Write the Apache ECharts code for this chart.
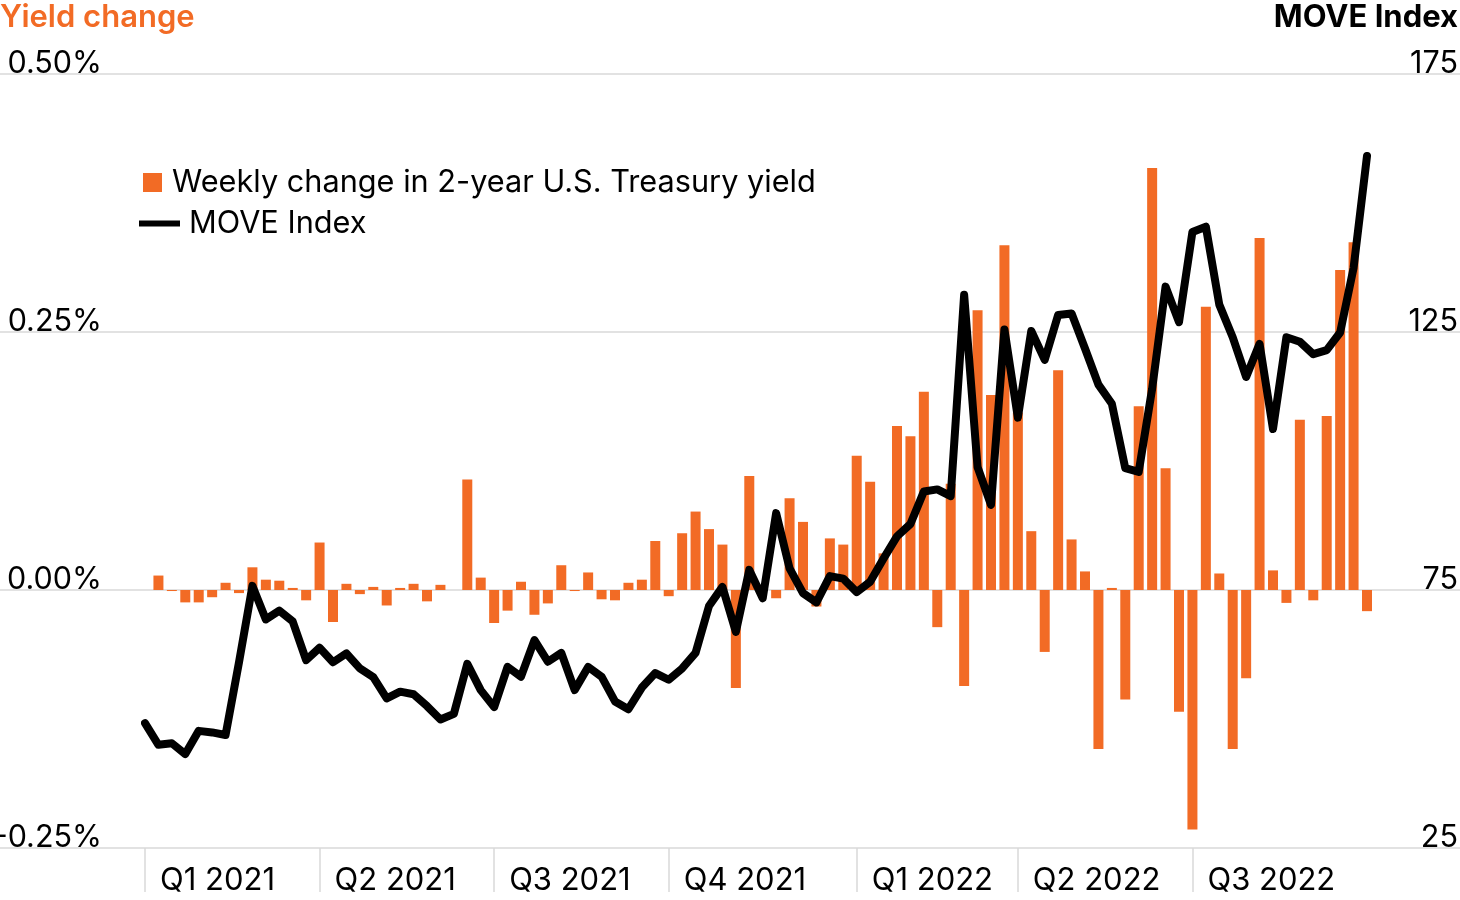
<!DOCTYPE html>
<html>
<head>
<meta charset="utf-8">
<script src="https://cdn.jsdelivr.net/npm/echarts@6/dist/echarts.min.js"></script>
<style>
  html, body { margin: 0; padding: 0; background: #fff; }
  #chart { width: 1460px; height: 900px; }
</style>
</head>
<body>
<div id="chart"></div>
<script>
// Weekly dates (Fridays)
const weeks = [
  '2021-01-01','2021-01-08','2021-01-15','2021-01-22','2021-01-29',
  '2021-02-05','2021-02-12','2021-02-19','2021-02-26',
  '2021-03-05','2021-03-12','2021-03-19','2021-03-26',
  '2021-04-02','2021-04-09','2021-04-16','2021-04-23','2021-04-30',
  '2021-05-07','2021-05-14','2021-05-21','2021-05-28',
  '2021-06-04','2021-06-11','2021-06-18','2021-06-25',
  '2021-07-02','2021-07-09','2021-07-16','2021-07-23','2021-07-30',
  '2021-08-06','2021-08-13','2021-08-20','2021-08-27',
  '2021-09-03','2021-09-10','2021-09-17','2021-09-24',
  '2021-10-01','2021-10-08','2021-10-15','2021-10-22','2021-10-29',
  '2021-11-05','2021-11-12','2021-11-19','2021-11-26',
  '2021-12-03','2021-12-10','2021-12-17','2021-12-24','2021-12-31',
  '2022-01-07','2022-01-14','2022-01-21','2022-01-28',
  '2022-02-04','2022-02-11','2022-02-18','2022-02-25',
  '2022-03-04','2022-03-11','2022-03-18','2022-03-25',
  '2022-04-01','2022-04-08','2022-04-15','2022-04-22','2022-04-29',
  '2022-05-06','2022-05-13','2022-05-20','2022-05-27',
  '2022-06-03','2022-06-10','2022-06-17','2022-06-24',
  '2022-07-01','2022-07-08','2022-07-15','2022-07-22','2022-07-29',
  '2022-08-05','2022-08-12','2022-08-19','2022-08-26',
  '2022-09-02','2022-09-09','2022-09-16','2022-09-23','2022-09-30'
];

// Quarter tick positions (first week of each quarter) and their labels
const quarterStarts = ['2021-01-01','2021-04-02','2021-07-02','2021-10-01','2022-01-07','2022-04-01','2022-07-01'];
const quarterLabels = ['Q1 2021','Q2 2021','Q3 2021','Q4 2021','Q1 2022','Q2 2022','Q3 2022'];

// Weekly change in 2-year U.S. Treasury yield (percentage points)
const yieldChange = [
  null,
  0.014, -0.001, -0.012, -0.012, -0.007, 0.007, -0.003, 0.022, 0.010, 0.009,
  0.002, -0.010, 0.046, -0.031, 0.006, -0.004, 0.003, -0.015, 0.002, 0.006,
  -0.011, 0.005, 0.000, 0.107, 0.012, -0.032, -0.020, 0.008, -0.024, -0.013,
  0.024, -0.001, 0.017, -0.009, -0.010, 0.007, 0.010, 0.0475, -0.006, 0.055,
  0.076, 0.059, 0.044, -0.095, 0.1105, 0.000, -0.008, 0.089, 0.066, -0.016,
  0.050, 0.044, 0.130, 0.105, 0.0355, 0.159, 0.149, 0.192, -0.036, 0.103,
  -0.093, 0.271, 0.189, 0.334, 0.172, 0.057, -0.060, 0.213, 0.049, 0.018,
  -0.154, 0.002, -0.106, 0.178, 0.409, 0.118, -0.118, -0.232, 0.2745, 0.016,
  -0.154, -0.0856, 0.341, 0.019, -0.0125, 0.165, -0.010, 0.1685, 0.310, 0.337,
  -0.0205
];

// MOVE Index
const moveIndex = [
  49.2, 45.0, 45.3, 43.2, 47.7, 47.4, 46.9, 61.0, 75.8, 69.3,
  71.0, 68.9, 61.4, 63.8, 61.0, 62.7, 59.8, 58.1, 54.0, 55.3,
  54.8, 52.5, 49.9, 51.0, 60.7, 55.6, 52.3, 60.1, 58.2, 65.3,
  61.1, 62.8, 55.6, 60.1, 58.2, 53.4, 51.9, 56.1, 58.9, 57.6,
  59.8, 62.8, 71.9, 75.6, 66.9, 78.9, 73.4, 89.9, 79.2, 74.4,
  72.6, 77.7, 77.2, 74.6, 76.6, 81.1, 85.4, 87.8, 94.1, 94.5,
  93.2, 132.2, 98.8, 91.5, 125.5, 108.4, 125.2, 119.6, 128.3, 128.6,
  121.8, 114.8, 111.1, 98.6, 97.9, 114.0, 133.8, 126.9, 144.4, 145.4,
  130.3, 124.0, 116.3, 122.7, 106.2, 124.0, 123.1, 120.7, 121.5, 124.9,
  137.4, 159.1
];

const leftTicks = { min: -0.25, max: 0.5, interval: 0.25 };
const rightTicks = { min: 25, max: 175, interval: 50 };

const ORANGE = '#F26B25';
const FONT = 'Inter';
const GRID_COLOR = '#d9d9d9';
const FS = 31;

const isQuarterStart = (idx) => quarterStarts.indexOf(weeks[idx]) >= 0;

const chart = echarts.init(document.getElementById('chart'), null, { renderer: 'canvas' });

chart.setOption({
  animation: false,
  backgroundColor: '#ffffff',
  textStyle: { fontFamily: FONT },
  title: [
    { text: 'Yield change', left: 0, top: 3, padding: 0,
      textStyle: { color: ORANGE, fontFamily: FONT, fontSize: FS, fontWeight: 600, lineHeight: 30 } },
    { text: 'MOVE Index', right: 2, top: 3, padding: 0,
      textStyle: { color: '#000', fontFamily: FONT, fontSize: FS, fontWeight: 700, lineHeight: 30 } }
  ],
  legend: [
    { data: ['Weekly change in 2-year U.S. Treasury yield'], left: 143, top: 167, padding: 0,
      icon: 'rect', itemWidth: 19, itemHeight: 19,
      textStyle: { color: '#000', fontFamily: FONT, fontSize: 30.7, lineHeight: 30, padding: [0, 0, 0, 5] } },
    { data: ['MOVE Index'], left: 139, top: 208, padding: 0,
      icon: 'rect', itemWidth: 41, itemHeight: 6,
      textStyle: { color: '#000', fontFamily: FONT, fontSize: 30.7, lineHeight: 30, padding: [0, 0, 0, 4] } }
  ],
  grid: [
    { left: 0, right: 0, top: 74, bottom: 52, outerBoundsMode: 'none', containLabel: false },
    { left: 145, right: 93, top: 74, bottom: 52, outerBoundsMode: 'none', containLabel: false }
  ],
  xAxis: [
    { gridIndex: 0, type: 'value', min: 0, max: 1, show: false },
    { gridIndex: 1, type: 'category', data: weeks, boundaryGap: false, position: 'bottom',
      axisLine: { show: false, onZero: false },
      axisTick: { show: true, interval: (i) => isQuarterStart(i), length: 44, inside: false,
        lineStyle: { color: GRID_COLOR, width: 1.5 } },
      axisLabel: { show: true, interval: (i) => isQuarterStart(i),
        formatter: (v) => quarterLabels[quarterStarts.indexOf(v)] || '',
        align: 'left', verticalAlign: 'top', padding: [0, 0, 0, 15], margin: 18,
        color: '#000', fontFamily: FONT, fontSize: FS, lineHeight: 30 },
      splitLine: { show: false } }
  ],
  yAxis: [
    { gridIndex: 0, type: 'value', min: leftTicks.min, max: leftTicks.max, interval: leftTicks.interval,
      axisLine: { show: false }, axisTick: { show: false }, axisLabel: { show: false },
      splitLine: { show: true, lineStyle: { color: GRID_COLOR, width: 1.5 } } },
    { gridIndex: 1, type: 'value', position: 'left', min: leftTicks.min, max: leftTicks.max, interval: leftTicks.interval,
      axisLine: { show: false }, axisTick: { show: false }, splitLine: { show: false },
      axisLabel: { formatter: (v) => v.toFixed(2) + '%', margin: 43, align: 'right', verticalAlign: 'bottom',
        lineHeight: 20, color: '#000', fontFamily: FONT, fontSize: 30.5 } },
    { gridIndex: 1, type: 'value', position: 'right', min: rightTicks.min, max: rightTicks.max, interval: rightTicks.interval,
      axisLine: { show: false }, axisTick: { show: false }, splitLine: { show: false },
      axisLabel: { margin: 91, align: 'right', verticalAlign: 'bottom',
        lineHeight: 20, color: '#000', fontFamily: FONT, fontSize: 30.5 } }
  ],
  series: [
    { name: 'Weekly change in 2-year U.S. Treasury yield', type: 'bar', xAxisIndex: 1, yAxisIndex: 1,
      data: yieldChange, barWidth: 10, itemStyle: { color: ORANGE } },
    { name: 'MOVE Index', type: 'line', xAxisIndex: 1, yAxisIndex: 2,
      data: moveIndex, symbol: 'none', showSymbol: false,
      itemStyle: { color: '#000' },
      lineStyle: { color: '#000', width: 8, join: 'round', cap: 'round' }, z: 5 }
  ]
});
</script>
</body>
</html>
